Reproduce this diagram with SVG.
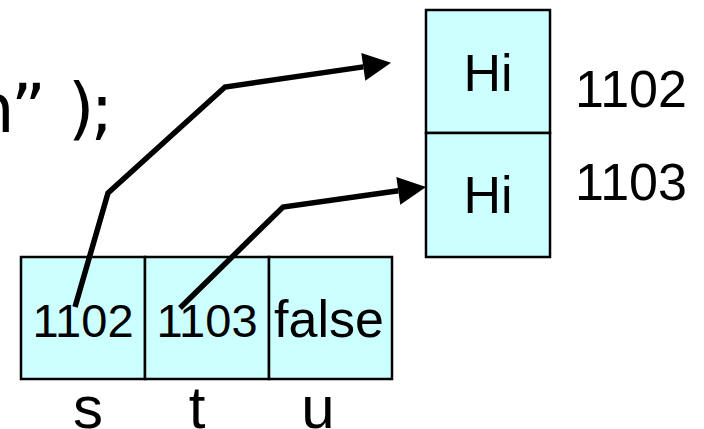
<svg xmlns="http://www.w3.org/2000/svg" width="704" height="429" viewBox="0 0 704 429">
<style>
.box{fill:#CCFFFF;stroke:#000;stroke-width:2.5}
.t{font-family:"Liberation Sans",Arial,sans-serif;fill:#000;text-anchor:middle}
.conn{fill:none;stroke:#000;stroke-width:5.5;stroke-linejoin:miter}
</style>
<defs>
<marker id="ah" markerUnits="userSpaceOnUse" markerWidth="30" markerHeight="30" refX="0" refY="14" orient="auto" overflow="visible">
<path d="M0,0 L28,14 L0,28 z" fill="#000"/>
</marker>
</defs>
<rect width="704" height="429" fill="#fff"/>
<text x="46" y="132" font-family="DejaVu Sans,sans-serif" font-size="68" text-anchor="end">n”</text>
<text x="68" y="132" font-family="DejaVu Sans,sans-serif" font-size="68" letter-spacing="-4">);</text>
<g id="node-s"><rect class="box" x="21" y="257" width="124" height="122"/><text class="t" x="83" y="337" font-size="47">1102</text><text class="t" x="88" y="428" font-size="60">s</text></g>
<g id="node-t"><rect class="box" x="145" y="257" width="124" height="122"/><text class="t" x="207" y="337" font-size="47">1103</text><text class="t" x="197" y="428" font-size="60">t</text></g>
<g id="node-u"><rect class="box" x="269" y="257" width="123" height="122"/><text class="t" x="329" y="337" font-size="52">false</text><text class="t" x="318" y="428" font-size="60">u</text></g>
<g id="node-hi1"><rect class="box" x="426" y="10" width="124" height="123"/><text class="t" x="488" y="91" font-size="52">Hi</text><text class="t" x="631" y="107" font-size="52">1102</text></g>
<g id="node-hi2"><rect class="box" x="426" y="133" width="124" height="124"/><text class="t" x="488" y="213" font-size="52">Hi</text><text class="t" x="631" y="200" font-size="52">1103</text></g>
<g id="connectors">
<path class="conn" d="M75,307 L108,193 L225,87 L363.3,66.9" marker-end="url(#ah)"/>
<path class="conn" d="M180,308 L283,207 L398.3,190.8" marker-end="url(#ah)"/>
</g>
</svg>
